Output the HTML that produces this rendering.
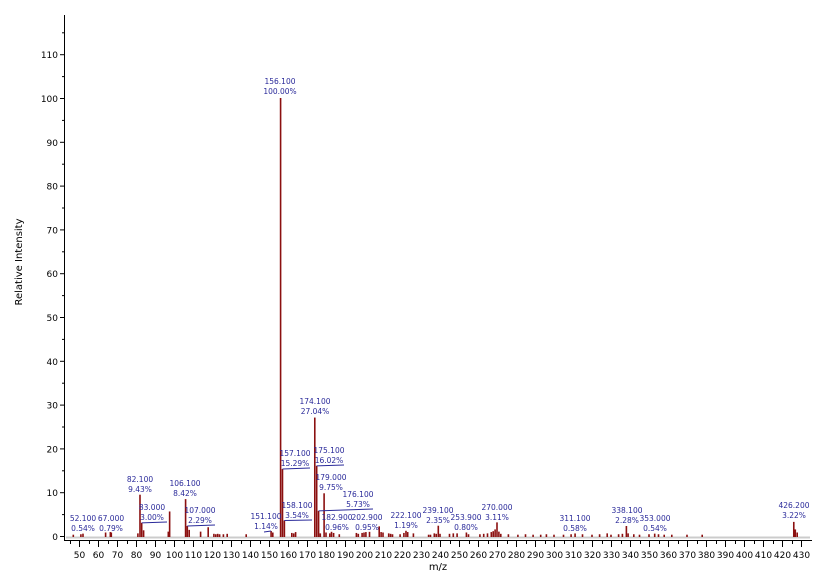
<!DOCTYPE html>
<html><head><meta charset="utf-8"><style>
html,body{margin:0;padding:0;background:#fff;}
svg{display:block;font-family:"DejaVu Sans","Liberation Sans",sans-serif;}
</style></head><body>
<svg id="s" width="816" height="575" viewBox="0 0 816 575" xmlns="http://www.w3.org/2000/svg">
<line x1="64.5" y1="15" x2="64.5" y2="541" stroke="#000"/>
<line x1="64" y1="540.5" x2="812" y2="540.5" stroke="#000"/>
<line x1="66" y1="537.5" x2="810" y2="537.5" stroke="#ccc" stroke-width="2"/>
<text x="22" y="262" font-size="10" transform="rotate(-90 22 262)" text-anchor="middle">Relative Intensity</text>
<text x="438" y="570" font-size="10" text-anchor="middle">m/z</text>
<g id="ax"></g><g id="bars" fill="#8b1010"></g><g id="lab" fill="#2a2a9a" font-size="7.5" text-anchor="middle"></g><g id="ld" stroke="#2a2a9a" stroke-width="1"></g>
</svg>
<script>
const NS="http://www.w3.org/2000/svg";
function el(p,t,a,txt){const e=document.createElementNS(NS,t);for(const k in a)e.setAttribute(k,a[k]);if(txt!==undefined)e.textContent=txt;document.getElementById(p).appendChild(e);return e;}
const X=m=>79+(m-50)*1.9, Y=v=>536-v*4.38;
for(let v=0;v<=115;v+=5){const y=Y(v)+0.5;const maj=v%10==0;el("ax","line",{x1:maj?60:62,y1:y,x2:64,y2:y,stroke:"#000"});if(maj)el("ax","text",{x:58,y:y+3.5,"font-size":9,"text-anchor":"end"},v);}
for(let m=45;m<=430;m+=5){const x=Math.round(X(m))+0.5;const maj=m%10==0;el("ax","line",{x1:x,y1:541,x2:x,y2:maj?547:544,stroke:"#000"});if(maj&&m>=50)el("ax","text",{x:x,y:558,"font-size":9,"text-anchor":"middle"},m);}
const peaks=[[47,.3],[51,.4],[52.1,.54],[64,.8],[66.5,.9],[67,.79],[81,.6],[82.1,9.43],[83,3.0],[84,1.3],[97,1.0],[97.7,5.6],[106.1,8.42],[107,2.29],[108,1.4],[114,1.0],[118,2.0],[121,.5],[122,.4],[123,.5],[124,.4],[126,.4],[128,.5],[138,.4],[151.1,1.14],[152,.8],[156.1,100],[157.1,15.29],[158.1,3.54],[162,.7],[163,.6],[164,.9],[174.1,27.04],[175.1,16.02],[176.1,5.73],[177,.6],[179,9.75],[180,.8],[182,.6],[182.9,.96],[184,.7],[187,.4],[196,.7],[197,.5],[199,.7],[200,.8],[201,.9],[202.9,.95],[208,2.2],[209,.9],[210,.8],[213,.6],[214,.5],[215,.4],[219,.4],[221,.7],[222.1,1.19],[223,.9],[226,.6],[234,.3],[235,.3],[237,.6],[238,.5],[239.1,2.35],[240,.5],[245,.5],[247,.6],[249,.6],[253.9,.8],[255,.4],[261,.4],[263,.5],[265,.6],[267,.9],[268,1.1],[269,1.5],[270,3.11],[271,1.0],[272,.5],[276,.4],[281,.3],[285,.4],[289,.3],[293,.3],[296,.4],[300,.3],[305,.3],[309,.4],[311.1,.58],[315,.4],[320,.3],[324,.4],[328,.6],[330,.3],[334,.4],[336,.5],[338.1,2.28],[339,.6],[342,.4],[345,.3],[350,.4],[353,.54],[355,.4],[358,.3],[362,.3],[370,.3],[378,.3],[426.2,3.22],[427,1.5],[428,.8]];
for(const [m,v] of peaks){const x=X(m);el("bars","rect",{x:x-0.8,y:Y(v),width:1.6,height:536-Y(v)+1});}
const labs=[[52.1,.54,83,521],[67,.79,111,521],[82.1,9.43,140,482],[83,3.0,152,510],[106.1,8.42,185,486],[107,2.29,200,513],[151.1,1.14,266,519],[156.1,100,280,84],[157.1,15.29,295,456],[158.1,3.54,297,508],[174.1,27.04,315,404],[175.1,16.02,329,453],[179,9.75,331,480],[176.1,5.73,358,497],[182.9,.96,337,520],[202.9,.95,367,520],[222.1,1.19,406,518],[239.1,2.35,438,513],[253.9,.8,466,520],[270,3.11,497,510],[311.1,.58,575,521],[338.1,2.28,627,513],[353,.54,655,521],[426.2,3.22,794,508]];
for(const [m,v,cx,y] of labs){el("lab","text",{x:cx,y:y},m.toFixed(3));el("lab","text",{x:cx,y:y+10},v.toFixed(2)+"%");
 const bx=X(m),by=Y(v);
 if(cx-bx>8){el("ld","line",{x1:bx,y1:by,x2:cx+15,y2:y+12});}
 else if(bx-cx>4 && m==151.1){el("ld","line",{x1:cx-2,y1:y+13,x2:bx,y2:by});}}
</script>
</body></html>
